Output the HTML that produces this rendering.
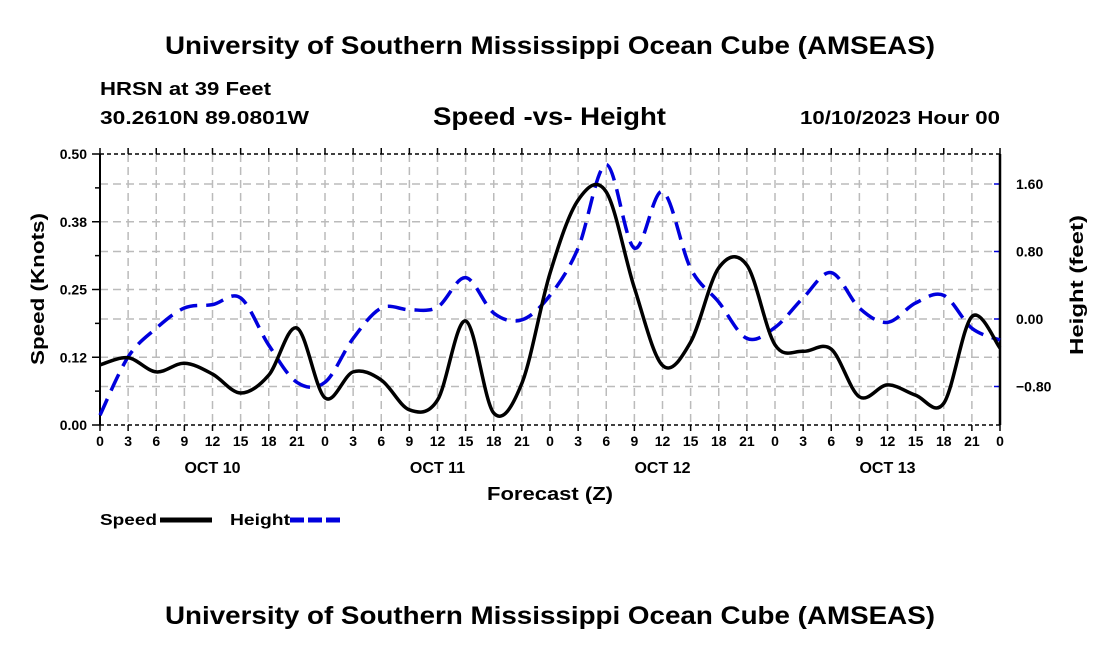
<!DOCTYPE html>
<html><head><meta charset="utf-8"><style>
html,body{margin:0;padding:0;background:#fff;}
svg{display:block;font-family:"Liberation Sans",Arial,sans-serif;font-weight:bold;}
</style></head><body>
<svg id="chart" width="1100" height="650" viewBox="0 0 1100 650">
<text x="165" y="54" font-size="25" textLength="770" lengthAdjust="spacingAndGlyphs">University of Southern Mississippi Ocean Cube (AMSEAS)</text>
<text x="100" y="95" font-size="18" textLength="171" lengthAdjust="spacingAndGlyphs">HRSN at 39 Feet</text>
<text x="100" y="124" font-size="18" textLength="209" lengthAdjust="spacingAndGlyphs">30.2610N  89.0801W</text>
<text x="433" y="125" font-size="25" textLength="233" lengthAdjust="spacingAndGlyphs">Speed -vs- Height</text>
<text x="800" y="124" font-size="18" textLength="200" lengthAdjust="spacingAndGlyphs">10/10/2023 Hour 00</text>
<g id="grid"></g>
<g id="axes"></g>
<g id="series"></g>
<text x="487" y="500" font-size="18" textLength="126" lengthAdjust="spacingAndGlyphs">Forecast (Z)</text>
<text transform="translate(44,365) rotate(-90)" font-size="18" textLength="152" lengthAdjust="spacingAndGlyphs">Speed (Knots)</text>
<text transform="translate(1083,355) rotate(-90)" font-size="18" textLength="140" lengthAdjust="spacingAndGlyphs">Height (feet)</text>
<g>
<text x="100" y="525" font-size="16" textLength="57" lengthAdjust="spacingAndGlyphs">Speed</text>
<line x1="160" y1="520" x2="212" y2="520" stroke="#000" stroke-width="5"/>
</g>
<g>
<text x="230" y="525" font-size="16" textLength="60" lengthAdjust="spacingAndGlyphs">Height</text>
<line x1="290" y1="520" x2="343" y2="520" stroke="#0000dd" stroke-width="5" stroke-dasharray="14,4"/>
</g>
<text x="165" y="624" font-size="25" textLength="770" lengthAdjust="spacingAndGlyphs">University of Southern Mississippi Ocean Cube (AMSEAS)</text>
</svg>
<script>
const hours = [0,3,6,9,12,15,18,21,24,27,30,33,36,39,42,45,48,51,54,57,60,63,66,69,72,75,78,81,84,87,90,93,96];
const speedValues = [0.111,0.124,0.098,0.114,0.094,0.059,0.092,0.179,0.05,0.098,0.083,0.028,0.046,0.192,0.022,0.077,0.28,0.415,0.43,0.253,0.11,0.153,0.29,0.295,0.148,0.136,0.14,0.052,0.074,0.055,0.04,0.2,0.142];
const heightValues = [-1.14,-0.45,-0.11,0.13,0.17,0.25,-0.31,-0.75,-0.75,-0.23,0.13,0.11,0.14,0.49,0.07,-0.01,0.28,0.84,1.83,0.84,1.51,0.6,0.2,-0.23,-0.1,0.25,0.55,0.13,-0.04,0.19,0.28,-0.11,-0.25];
const xTickLabels = ["0","3","6","9","12","15","18","21","0","3","6","9","12","15","18","21","0","3","6","9","12","15","18","21","0","3","6","9","12","15","18","21","0"];
const dayLabels = ["OCT 10","OCT 11","OCT 12","OCT 13"];
const leftTicks = [0,0.125,0.25,0.375,0.5];
const leftTickLabels = ["0.00","0.12","0.25","0.38","0.50"];
const rightTicks = [-0.8,0,0.8,1.6];
const rightTickLabels = ["\u22120.80","0.00","0.80","1.60"];

const L=100,R=1000,T=154,B=425;
const xS=h=>L+(R-L)*h/96;
const yS=v=>B-(B-T)*v/0.5;
const yH=v=>319-v*84.375;
const NS="http://www.w3.org/2000/svg";
function mk(tag,attrs,parent){const e=document.createElementNS(NS,tag);for(const k in attrs)e.setAttribute(k,attrs[k]);parent.appendChild(e);return e;}
const grid=document.getElementById('grid'),axes=document.getElementById('axes'),series=document.getElementById('series');

hours.forEach((h,i)=>{
  const x=xS(h);
  if(i>0&&i<hours.length-1){const g=mk('line',{x1:x,y1:T,x2:x,y2:B,stroke:'#bbb','stroke-width':1.5,'stroke-dasharray':'8,5'},grid);
  
  }
  mk('line',{x1:x,y1:B,x2:x,y2:B+6,stroke:'#000','stroke-width':1.5},axes);
  mk('line',{x1:x,y1:T,x2:x,y2:T-6,stroke:'#000','stroke-width':1.5},axes);
  const t=mk('text',{x:x,y:B+21,'font-size':14,'text-anchor':'middle'},axes);t.textContent=xTickLabels[i];
  
  
});
dayLabels.forEach((d,i)=>{const t=mk('text',{x:xS(12+24*i),y:B+48,'font-size':16,'text-anchor':'middle'},axes);t.textContent=d;
  
  });
leftTicks.forEach((v,i)=>{const y=yS(v);
  if(i>0&&i<leftTicks.length-1){const g=mk('line',{x1:L,y1:y,x2:R,y2:y,stroke:'#bbb','stroke-width':1.5,'stroke-dasharray':'8,5'},grid);
  
  }
  mk('line',{x1:L-8,y1:y,x2:L,y2:y,stroke:'#000','stroke-width':1.5},axes);
  const t=mk('text',{x:L-13,y:y+5,'font-size':14,'text-anchor':'end'},axes);t.textContent=leftTickLabels[i];
  
  
  if(i<leftTicks.length-1){const m=yS(v+0.0625);mk('line',{x1:L-5,y1:m,x2:L,y2:m,stroke:'#000','stroke-width':1.5},axes);}
});
rightTicks.forEach((v,i)=>{const y=yH(v);
  const g=mk('line',{x1:L,y1:y,x2:R,y2:y,stroke:'#bbb','stroke-width':1.5,'stroke-dasharray':'8,5'},grid);
  
  
  mk('line',{x1:R-6,y1:y,x2:R,y2:y,stroke:'#0000dd','stroke-width':1.5},axes);
  const t=mk('text',{x:R+16,y:y+5,'font-size':14},axes);t.textContent=rightTickLabels[i];
  
  
});
mk('line',{x1:L,y1:T,x2:R,y2:T,stroke:'#000','stroke-width':1.5,'stroke-dasharray':'4,3'},axes);
mk('line',{x1:L,y1:B,x2:R,y2:B,stroke:'#000','stroke-width':1.5,'stroke-dasharray':'4,3'},axes);
mk('line',{x1:L,y1:T,x2:L,y2:B,stroke:'#000','stroke-width':2},axes);
mk('line',{x1:R,y1:T,x2:R,y2:B,stroke:'#000','stroke-width':2.5},axes);

function smooth(pts){let d=`M${pts[0][0]},${pts[0][1]}`;
  for(let i=0;i<pts.length-1;i++){const p0=pts[i-1]||pts[i],p1=pts[i],p2=pts[i+1],p3=pts[i+2]||p2;
    const c1=[p1[0]+(p2[0]-p0[0])/6,p1[1]+(p2[1]-p0[1])/6],c2=[p2[0]-(p3[0]-p1[0])/6,p2[1]-(p3[1]-p1[1])/6];
    d+=`C${c1[0]},${c1[1]} ${c2[0]},${c2[1]} ${p2[0]},${p2[1]}`;}return d;}
const hp=mk('path',{d:smooth(hours.map((h,i)=>[xS(h),yH(heightValues[i])])),fill:'none',stroke:'#0000dd','stroke-width':3.5,'stroke-dasharray':'18,9'},series);


const sp=mk('path',{d:smooth(hours.map((h,i)=>[xS(h),yS(speedValues[i])])),fill:'none',stroke:'#000','stroke-width':3.5},series);


</script>
</body></html>
